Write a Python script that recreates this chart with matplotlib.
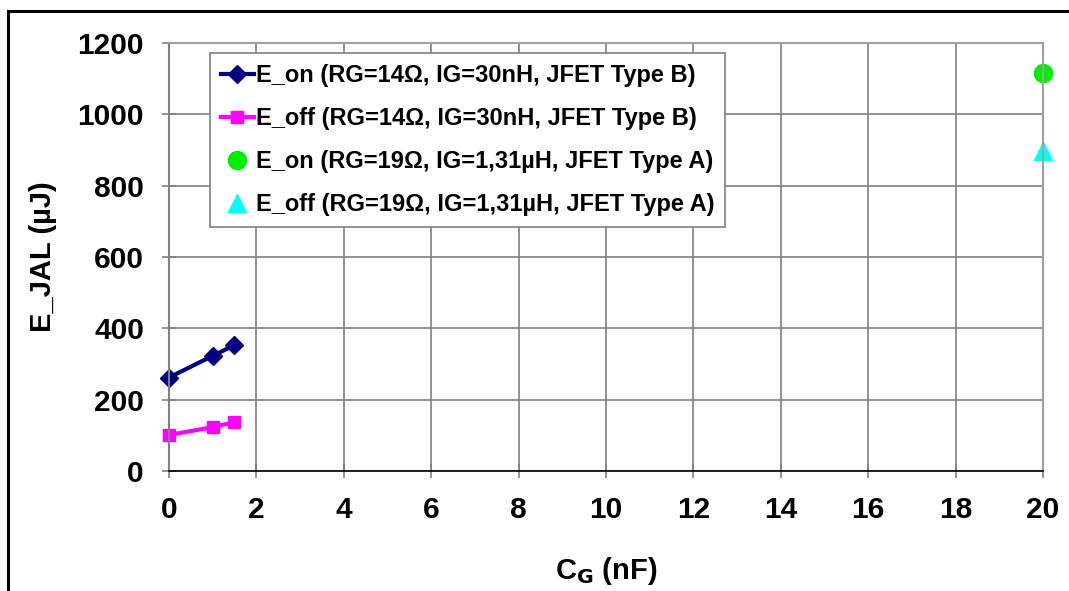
import matplotlib
matplotlib.use("Agg")
import matplotlib.pyplot as plt
from matplotlib.patches import Rectangle

plt.rcParams['font.family'] = ['Liberation Sans', 'DejaVu Sans']
plt.rcParams['font.weight'] = 'bold'

# data
cg_b = [0, 1, 1.5]
eon_b = [262, 323, 353]
eoff_b = [101, 123, 137]
cg_a = [20]
eon_a = [1115]
eoff_a = [897]

labels = [
    "E_on (RG=14\u03a9, IG=30nH, JFET Type B)",
    "E_off (RG=14\u03a9, IG=30nH, JFET Type B)",
    "E_on (RG=19\u03a9, IG=1,31\u00b5H, JFET Type A)",
    "E_off (RG=19\u03a9, IG=1,31\u00b5H, JFET Type A)",
]

fig = plt.figure(figsize=(10.69, 5.91), dpi=100)
ax = fig.add_axes([0.158, 0.203, 0.8177, 0.724])

ax.plot(cg_b, eon_b, color='#000080', marker='D', markersize=9, linewidth=3, label=labels[0], clip_on=False)
ax.plot(cg_b, eoff_b, color='#ff00ff', marker='s', markersize=8, linewidth=3, label=labels[1], clip_on=False)
ax.plot(cg_a, eon_a, color='#00ee00', marker='o', markersize=13, linestyle='none', label=labels[2], clip_on=False)
ax.plot(cg_a, eoff_a, color='#00ffff', marker='^', markersize=13, linestyle='none', label=labels[3], clip_on=False)

ax.set_xlim(0, 20)
ax.set_ylim(0, 1200)
ax.set_xticks(range(0, 21, 2))
ax.set_yticks(range(0, 1201, 200))
ax.grid(True, color='#808080', linewidth=1.2)
ax.set_axisbelow(True)
for s in ['top', 'right']:
    ax.spines[s].set_color('#a0a0a0')
    ax.spines[s].set_linewidth(1.5)
ax.spines['left'].set_color('#808080')
ax.spines['bottom'].set_color('black')
ax.spines['left'].set_linewidth(1.5)
ax.spines['bottom'].set_linewidth(1.2)
ax.tick_params(axis='both', direction='inout', length=10, width=1.2, color='#808080', labelsize=21.5, pad=13)
for t in ax.get_xticklabels() + ax.get_yticklabels():
    t.set_fontweight('bold')

ax.set_xlabel("C$_\\mathbf{G}$ (nF)", fontsize=21, fontweight='bold', labelpad=22)
ax.set_ylabel("E_JAL (\u00b5J)", fontsize=21, fontweight='bold', labelpad=15)

leg = ax.legend(loc='upper left', bbox_to_anchor=(0.047, 0.976),
                prop={'weight': 'bold', 'size': 17}, fancybox=False, framealpha=1,
                edgecolor='#808080', handlelength=1.4, handletextpad=0.1,
                borderpad=0.45, labelspacing=0.85, borderaxespad=0)
leg.get_frame().set_linewidth(1.2)

# outer frame
fig.patches.append(Rectangle((8 / 1069, -0.05), 1.2, 1 - 11 / 591 + 0.05,
                             transform=fig.transFigure, fill=False,
                             edgecolor='black', linewidth=2.2))

fig.savefig("out.png", dpi=100)
